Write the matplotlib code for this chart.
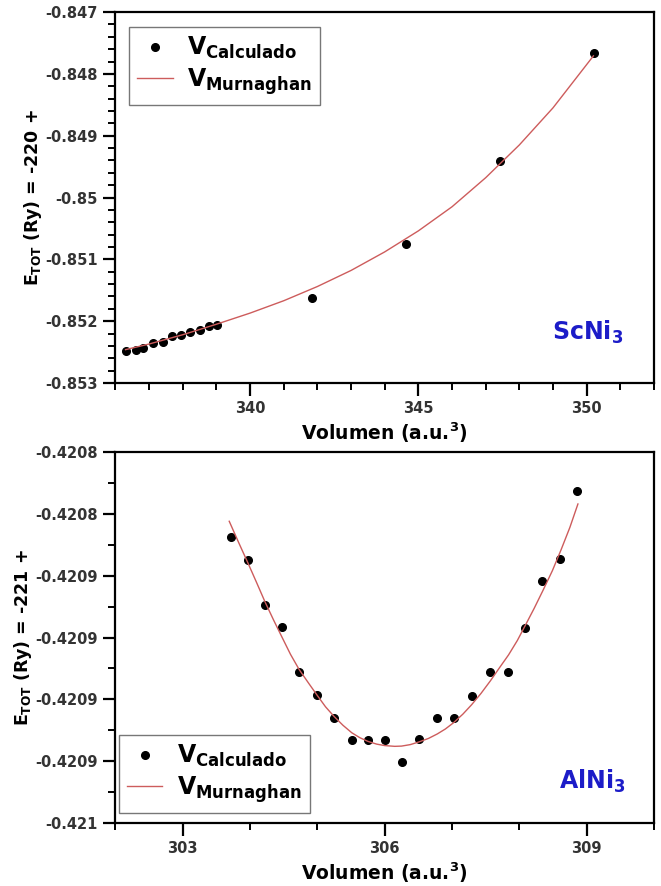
import numpy as np
import matplotlib
matplotlib.use("Agg")
import matplotlib.pyplot as plt
from matplotlib.ticker import MultipleLocator, FuncFormatter

plt.rcParams['font.family'] = ['DejaVu Sans']
plt.rcParams['font.weight'] = 'bold'
plt.rcParams['mathtext.fontset'] = 'custom'
plt.rcParams['mathtext.rm'] = 'DejaVu Sans:bold'
plt.rcParams['mathtext.bf'] = 'DejaVu Sans:bold'
plt.rcParams['mathtext.it'] = 'DejaVu Sans:bold'

# ScNi3 - datos calculados
sc_vol = [336.30, 336.60, 336.82, 337.12, 337.41, 337.69, 337.94, 338.22,
          338.51, 338.79, 339.03, 341.84, 344.63, 347.42, 350.23]
sc_ene = [-0.852485, -0.852463, -0.852441, -0.852360, -0.852344, -0.852246,
          -0.852225, -0.852169, -0.852148, -0.852072, -0.852055, -0.851622,
          -0.850752, -0.849412, -0.847669]
# ScNi3 - ajuste Murnaghan
sc_fit_vol = [336.30, 337.0, 338.0, 339.0, 340.0, 341.0, 342.0, 343.0,
              344.0, 345.0, 346.0, 347.0, 348.0, 349.0, 350.20]
sc_fit_ene = [-0.852460, -0.852369, -0.852219, -0.852049, -0.851869,
              -0.851669, -0.851439, -0.851179, -0.850879, -0.850539,
              -0.850149, -0.849679, -0.849149, -0.848549, -0.847709]

# AlNi3 - datos calculados
al_vol = [303.71, 303.97, 304.22, 304.48, 304.73, 305.00, 305.25, 305.51,
          305.75, 306.01, 306.26, 306.51, 306.78, 307.03, 307.29, 307.56,
          307.83, 308.08, 308.34, 308.61, 308.86]
al_ene = [-0.4208342, -0.4208436, -0.4208618, -0.4208708, -0.4208888,
          -0.4208983, -0.4209076, -0.4209164, -0.4209164, -0.4209164,
          -0.4209253, -0.4209161, -0.4209075, -0.4209075, -0.4208985,
          -0.4208888, -0.4208888, -0.4208710, -0.4208521, -0.4208433,
          -0.4208156]
# AlNi3 - ajuste Murnaghan
al_fit_vol = [303.69, 303.83, 303.97, 304.10, 304.22, 304.35, 304.48, 304.60,
              304.73, 304.87, 305.00, 305.12, 305.25, 305.38, 305.51, 305.63,
              305.75, 305.88, 306.00, 306.15, 306.25, 306.38, 306.51, 306.65,
              306.78, 306.90, 307.02, 307.16, 307.29, 307.43, 307.57, 307.70,
              307.84, 307.97, 308.09, 308.22, 308.35, 308.49, 308.62, 308.75,
              308.87]
al_fit_ene = [-0.4208280, -0.4208366, -0.4208450, -0.4208530, -0.4208605,
              -0.4208680, -0.4208752, -0.4208818, -0.4208880, -0.4208935,
              -0.4208985, -0.4209030, -0.4209070, -0.4209105, -0.4209135,
              -0.4209155, -0.4209170, -0.4209181, -0.4209187, -0.4209190,
              -0.4209189, -0.4209183, -0.4209172, -0.4209158, -0.4209140,
              -0.4209120, -0.4209095, -0.4209060, -0.4209022, -0.4208976,
              -0.4208925, -0.4208874, -0.4208820, -0.4208762, -0.4208700,
              -0.4208632, -0.4208560, -0.4208480, -0.4208395, -0.4208305,
              -0.4208210]

red = '#cd5c5c'
blue = '#1c1cc8'
tick_col = '#333333'

fig = plt.figure(figsize=(6.61, 8.86), dpi=100)
ax1 = fig.add_axes([0.1747, 0.5677, 0.8147, 0.4187])
ax2 = fig.add_axes([0.1747, 0.0711, 0.8147, 0.4187])


def style(ax, xmaj, xmin, ymaj, ymin, ydec):
    for s in ax.spines.values():
        s.set_linewidth(1.6)
    ax.xaxis.set_major_locator(MultipleLocator(xmaj))
    ax.xaxis.set_minor_locator(MultipleLocator(xmin))
    ax.yaxis.set_major_locator(MultipleLocator(ymaj))
    ax.yaxis.set_minor_locator(MultipleLocator(ymin))
    ax.yaxis.set_major_formatter(
        FuncFormatter(lambda v, p: f"{v:.{ydec}f}".rstrip('0')))
    ax.tick_params(which='major', length=9, width=1.6, labelsize=10.5,
                   labelcolor=tick_col, pad=4)
    ax.tick_params(which='minor', length=5, width=1.4)
    ax.set_xlabel(r"Volumen (a.u.$^3$)", fontsize=13.5, fontweight='bold',
                  labelpad=3)


leg_kw = dict(borderaxespad=0, fontsize=17, fancybox=False,
              edgecolor='#777777', framealpha=1, handlelength=1.5,
              handletextpad=0.6, labelspacing=0.2, borderpad=0.35)

# --- ScNi3 ---
ax1.plot(sc_vol, sc_ene, 'o', color='black', ms=5.5, label=r"$V_{Calculado}$")
ax1.plot(sc_fit_vol, sc_fit_ene, '-', color=red, lw=1.0, label=r"$V_{Murnaghan}$")
ax1.set_xlim(336, 352)
ax1.set_ylim(-0.853, -0.847)
style(ax1, 5, 1, 0.001, 0.0002, 3)
ax1.set_ylabel(r"$E_{TOT}$ (Ry) = -220 +", fontsize=12.5, fontweight='bold')
ax1.yaxis.set_label_coords(-0.132, 0.5)
ax1.legend(loc='upper left', bbox_to_anchor=(0.025, 0.96), **leg_kw)
ax1.text(0.877, 0.137, r"ScNi$_3$", transform=ax1.transAxes, color=blue,
         fontsize=17, fontweight='bold', ha='center', va='center')

# --- AlNi3 ---
ax2.plot(al_vol, al_ene, 'o', color='black', ms=5.5, label=r"$V_{Calculado}$")
ax2.plot(al_fit_vol, al_fit_ene, '-', color=red, lw=1.0, label=r"$V_{Murnaghan}$")
ax2.set_xlim(302, 310)
ax2.set_ylim(-0.42095, -0.42080)
style(ax2, 3, 1, 0.000025, 0.0000125, 4)
ax2.set_ylabel(r"$E_{TOT}$ (Ry) = -221 +", fontsize=12.5, fontweight='bold')
ax2.yaxis.set_label_coords(-0.152, 0.5)
ax2.legend(loc='lower left', bbox_to_anchor=(0.006, 0.027), **leg_kw)
ax2.text(0.885, 0.113, r"AlNi$_3$", transform=ax2.transAxes, color=blue,
         fontsize=17, fontweight='bold', ha='center', va='center')

fig.savefig("out.png", dpi=100)
